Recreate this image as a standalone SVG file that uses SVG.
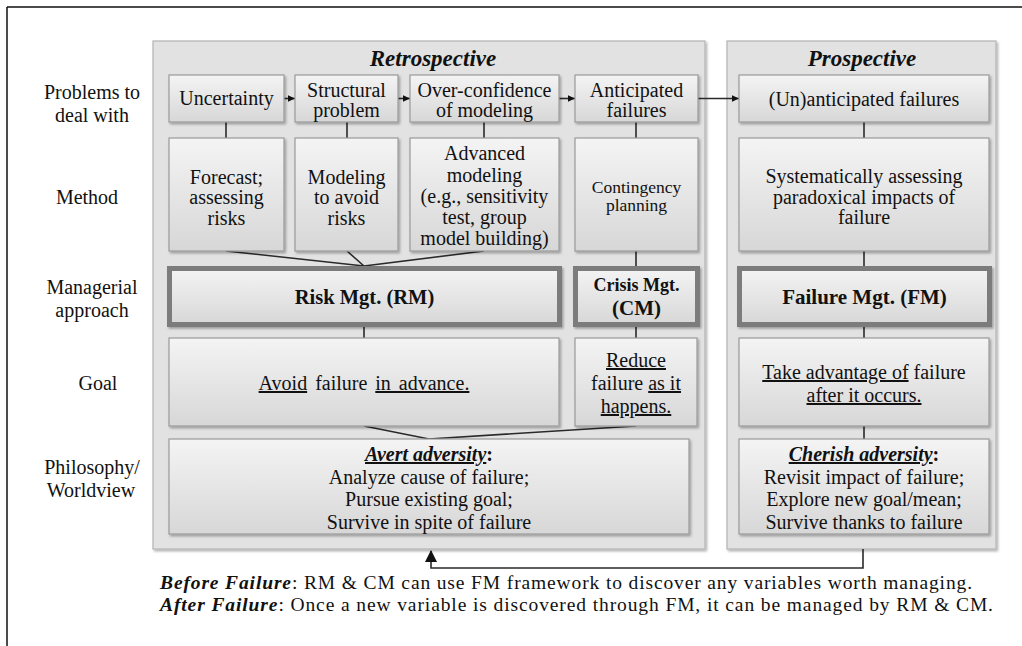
<svg xmlns="http://www.w3.org/2000/svg" width="1022" height="646" viewBox="0 0 1022 646">
<style>
.t{text-anchor:middle;font-size:20px;fill:#111}
.lbl{text-anchor:middle;font-size:20px;fill:#111}
.b{font-weight:bold}
.bi{font-weight:bold;font-style:italic}
.u{text-decoration:underline}
.panel{fill:#e2e2e2;stroke:#b4b4b4;stroke-width:1.2}
.box{fill:url(#g);stroke:#9a9a9a;stroke-width:1.2}
.tbox{fill:url(#g);stroke:#7c7c7c;stroke-width:5}
.c{stroke:#2a2a2a;stroke-width:1.6;fill:none}
</style>
<defs>
<linearGradient id="g" x1="0" y1="0" x2="0" y2="1">
<stop offset="0" stop-color="#f4f4f4"/>
<stop offset="1" stop-color="#d7d7d7"/>
</linearGradient>
<filter id="sh" x="-5%" y="-5%" width="110%" height="115%">
<feDropShadow dx="1.5" dy="1.8" stdDeviation="1.2" flood-color="#000" flood-opacity="0.3"/>
</filter>
<marker id="ah" markerWidth="8" markerHeight="8" refX="7" refY="4" orient="auto" markerUnits="userSpaceOnUse">
<path d="M0,0.8 L7,4 L0,7.2 Z" fill="#111"/>
</marker>
<marker id="ahb" markerWidth="12" markerHeight="14" refX="11" refY="6" orient="auto" markerUnits="userSpaceOnUse">
<path d="M0,0 L12,6 L0,12 Z" fill="#111"/>
</marker>
</defs>
<rect width="1022" height="646" fill="#fff"/>
<g id="frame"><path d="M7,7 H1022 M7,7 V646" stroke="#111" stroke-width="1.5" fill="none"/></g>
<g font-family="Liberation Serif, Times New Roman, serif">
<g id="row-labels">
<text class="lbl" x="92" y="99">Problems to</text>
<text class="lbl" x="92" y="122">deal with</text>
<text class="lbl" x="87" y="204">Method</text>
<text class="lbl" x="92" y="294">Managerial</text>
<text class="lbl" x="92" y="317">approach</text>
<text class="lbl" x="98" y="390">Goal</text>
<text class="lbl" x="92" y="474">Philosophy/</text>
<text class="lbl" x="91" y="497">Worldview</text>
</g>

<g id="panel-retrospective">
<rect class="panel" x="153" y="41" width="552" height="508" filter="url(#sh)"/>
<text class="t bi" x="433" y="66" style="font-size:23px">Retrospective</text>
</g>
<g id="panel-prospective">
<rect class="panel" x="727" y="41" width="269" height="508" filter="url(#sh)"/>
<text class="t bi" x="862" y="66" style="font-size:23px">Prospective</text>
</g>

<g id="connectors">
<line class="c" x1="284" y1="98.5" x2="295" y2="98.5" marker-end="url(#ah)"/>
<line class="c" x1="398" y1="98.5" x2="410" y2="98.5" marker-end="url(#ah)"/>
<line class="c" x1="559" y1="98.5" x2="575" y2="98.5" marker-end="url(#ah)"/>
<line class="c" x1="698" y1="98.5" x2="739" y2="98.5" marker-end="url(#ah)"/>
<line class="c" x1="226" y1="122" x2="226" y2="138"/>
<line class="c" x1="347" y1="122" x2="347" y2="138"/>
<line class="c" x1="484" y1="122" x2="484" y2="138"/>
<line class="c" x1="636" y1="122" x2="636" y2="138"/>
<line class="c" x1="864" y1="122" x2="864" y2="138"/>
<path class="c" d="M226,251 L364,266 M347,251 L364,266 M484,251 L364,266"/>
<line class="c" x1="636" y1="251" x2="636" y2="266"/>
<line class="c" x1="864" y1="251" x2="864" y2="266"/>
<line class="c" x1="364" y1="327" x2="364" y2="338"/>
<line class="c" x1="636" y1="327" x2="636" y2="338"/>
<line class="c" x1="864" y1="327" x2="864" y2="338"/>
<path class="c" d="M364,426 L429,439 L636,426"/>
<line class="c" x1="864" y1="426" x2="864" y2="439"/>
<path class="c" d="M863,549 V568 H431 V551" stroke-width="2" marker-end="url(#ahb)"/>
</g>

<g id="n-uncertainty"><rect class="box" x="169" y="75" width="115" height="47" filter="url(#sh)"/>
<text class="t" x="226.5" y="105">Uncertainty</text></g>
<g id="n-structural"><rect class="box" x="295" y="75" width="103" height="47" filter="url(#sh)"/>
<text class="t" x="346.5" y="97">Structural</text><text class="t" x="346.5" y="117">problem</text></g>
<g id="n-overconfidence"><rect class="box" x="410" y="75" width="149" height="47" filter="url(#sh)"/>
<text class="t" x="484.5" y="97">Over-confidence</text><text class="t" x="484.5" y="117">of modeling</text></g>
<g id="n-anticipated"><rect class="box" x="575" y="75" width="123" height="47" filter="url(#sh)"/>
<text class="t" x="636.5" y="97">Anticipated</text><text class="t" x="636.5" y="117">failures</text></g>
<g id="n-unanticipated"><rect class="box" x="739" y="75" width="250" height="47" filter="url(#sh)"/>
<text class="t" x="864" y="106">(Un)anticipated failures</text></g>

<g id="n-forecast"><rect class="box" x="169" y="138" width="115" height="113" filter="url(#sh)"/>
<text class="t" x="226.5" y="184">Forecast;</text><text class="t" x="226.5" y="204">assessing</text><text class="t" x="226.5" y="225">risks</text></g>
<g id="n-modeling"><rect class="box" x="295" y="138" width="103" height="113" filter="url(#sh)"/>
<text class="t" x="346.5" y="184">Modeling</text><text class="t" x="346.5" y="204">to avoid</text><text class="t" x="346.5" y="225">risks</text></g>
<g id="n-advanced"><rect class="box" x="410" y="138" width="149" height="113" filter="url(#sh)"/>
<text class="t" x="484.5" y="160">Advanced</text><text class="t" x="484.5" y="182">modeling</text><text class="t" x="484.5" y="203">(e.g., sensitivity</text><text class="t" x="484.5" y="224">test, group</text><text class="t" x="484.5" y="245">model building)</text></g>
<g id="n-contingency"><rect class="box" x="575" y="138" width="123" height="113" filter="url(#sh)"/>
<text class="t" x="636.5" y="193" style="font-size:17.5px">Contingency</text><text class="t" x="636.5" y="211" style="font-size:17.5px">planning</text></g>
<g id="n-systematic"><rect class="box" x="739" y="138" width="250" height="113" filter="url(#sh)"/>
<text class="t" x="864" y="183">Systematically assessing</text><text class="t" x="864" y="204">paradoxical impacts of</text><text class="t" x="864" y="224">failure</text></g>

<g id="n-rm"><rect class="tbox" x="169.5" y="268.5" width="390" height="56" filter="url(#sh)"/>
<text class="t b" x="364.5" y="304" style="font-size:20.5px">Risk Mgt. (RM)</text></g>
<g id="n-cm"><rect class="tbox" x="575.5" y="268.5" width="122" height="56" filter="url(#sh)"/>
<text class="t b" x="636.5" y="291" style="font-size:18px">Crisis Mgt.</text><text class="t b" x="636.5" y="315" style="font-size:21px">(CM)</text></g>
<g id="n-fm"><rect class="tbox" x="739.5" y="268.5" width="250" height="56" filter="url(#sh)"/>
<text class="t b" x="864.5" y="304" style="font-size:21px">Failure Mgt. (FM)</text></g>

<g id="n-avoid"><rect class="box" x="169" y="338" width="390" height="88" filter="url(#sh)"/>
<text class="t" x="364" y="390" style="word-spacing:3px"><tspan class="u">Avoid</tspan> failure <tspan class="u">in advance.</tspan></text></g>
<g id="n-reduce"><rect class="box" x="575" y="338" width="122" height="88" filter="url(#sh)"/>
<text class="t" x="636" y="367"><tspan class="u">Reduce</tspan></text>
<text class="t" x="636" y="390">failure <tspan class="u">as it</tspan></text>
<text class="t" x="636" y="413"><tspan class="u">happens.</tspan></text></g>
<g id="n-advantage"><rect class="box" x="739" y="338" width="250" height="88" filter="url(#sh)"/>
<text class="t" x="864" y="379"><tspan class="u">Take advantage of</tspan> failure</text>
<text class="t" x="864" y="402"><tspan class="u">after it occurs.</tspan></text></g>

<g id="n-avert"><rect class="box" x="169" y="439" width="520" height="95" filter="url(#sh)"/>
<text class="t" x="429" y="461"><tspan class="bi u">Avert adversity</tspan><tspan class="b">:</tspan></text>
<text class="t" x="429" y="484">Analyze cause of failure;</text>
<text class="t" x="429" y="506">Pursue existing goal;</text>
<text class="t" x="429" y="529">Survive in spite of failure</text></g>
<g id="n-cherish"><rect class="box" x="739" y="439" width="250" height="95" filter="url(#sh)"/>
<text class="t" x="864" y="461"><tspan class="bi u">Cherish adversity</tspan><tspan class="b">:</tspan></text>
<text class="t" x="864" y="484">Revisit impact of failure;</text>
<text class="t" x="864" y="506">Explore new goal/mean;</text>
<text class="t" x="864" y="529">Survive thanks to failure</text></g>

<g id="footnote">
<text x="160" y="589" textLength="812" lengthAdjust="spacing" font-size="19.5" fill="#111"><tspan class="bi">Before Failure</tspan>: RM &amp; CM can use FM framework to discover any variables worth managing.</text>
<text x="160" y="611" textLength="833" lengthAdjust="spacing" font-size="19.5" fill="#111"><tspan class="bi">After Failure</tspan>: Once a new variable is discovered through FM, it can be managed by RM &amp; CM.</text>
</g>
</g>
</svg>
